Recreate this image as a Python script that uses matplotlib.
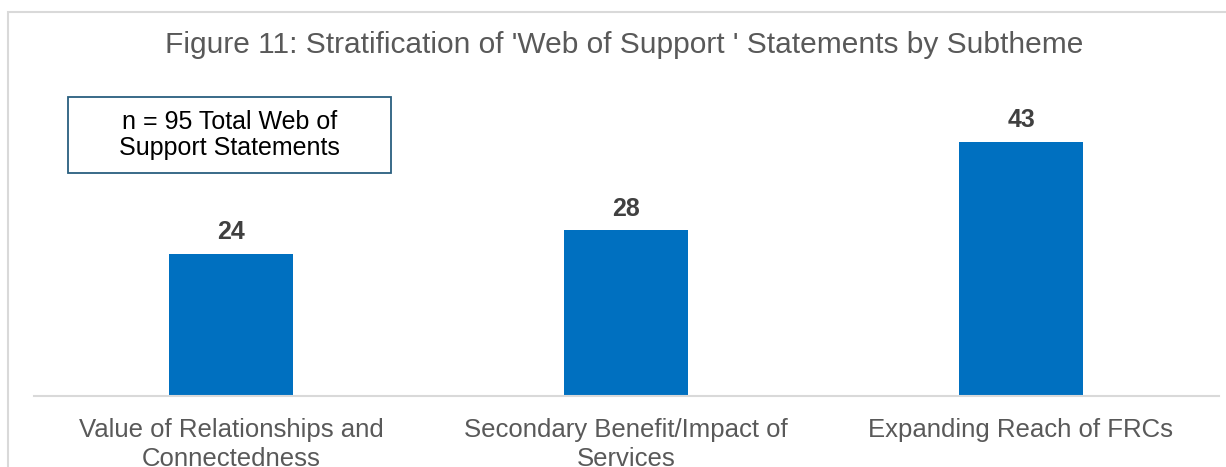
import matplotlib
matplotlib.use("Agg")
import matplotlib.pyplot as plt
from matplotlib.patches import Rectangle

subthemes = ["Value of Relationships and\nConnectedness",
             "Secondary Benefit/Impact of\nServices",
             "Expanding Reach of FRCs"]
counts = [24, 28, 43]
total_n = 95

W, H = 1226, 467
plt.rcParams["font.family"] = ["Liberation Sans", "DejaVu Sans"]

fig = plt.figure(figsize=(W / 100, H / 100), dpi=100)
fig.patch.set_facecolor("white")

# outer chart frame (runs off the right and bottom edges)
fig.patches.append(Rectangle((8 / W, -0.2), 1.2, 1.2 - 12 / H,
                             transform=fig.transFigure, fill=False,
                             edgecolor="#d9d9d9", linewidth=1.5))

ax = fig.add_axes([33.5 / W, 1 - 395.5 / H, 1185 / W, 295.5 / H])
x = range(len(counts))
bars = ax.bar(x, counts, width=0.315, color="#0070C0")
ax.set_xlim(-0.5, len(counts) - 0.5)
ax.set_ylim(0, 50.1)

ax.bar_label(bars, labels=[str(c) for c in counts], padding=7,
             fontsize=18, fontweight="bold", color="#404040")

ax.set_xticks(list(x))
ax.set_xticklabels(subthemes, fontsize=18.5, color="#595959", linespacing=1.3)
ax.tick_params(axis="x", length=0, pad=16)
ax.set_yticks([])
for side in ["top", "right", "left"]:
    ax.spines[side].set_visible(False)
ax.spines["bottom"].set_color("#d9d9d9")
ax.spines["bottom"].set_linewidth(1.5)

fig.text(624 / W, 1 - 45 / H,
         "Figure 11: Stratification of 'Web of Support ' Statements by Subtheme",
         ha="center", va="center", fontsize=21.5, color="#595959")

# sample size note
fig.patches.append(Rectangle((68 / W, 1 - 173 / H), (391 - 68) / W, (173 - 97) / H,
                             transform=fig.transFigure, facecolor="white",
                             edgecolor="#2A5F7F", linewidth=1.3))
fig.text(229.5 / W, 1 - 135 / H,
         f"n = {total_n} Total Web of\nSupport Statements",
         ha="center", va="center", fontsize=18, color="black", linespacing=1.08)

fig.savefig("out.png", dpi=100, facecolor="white")
